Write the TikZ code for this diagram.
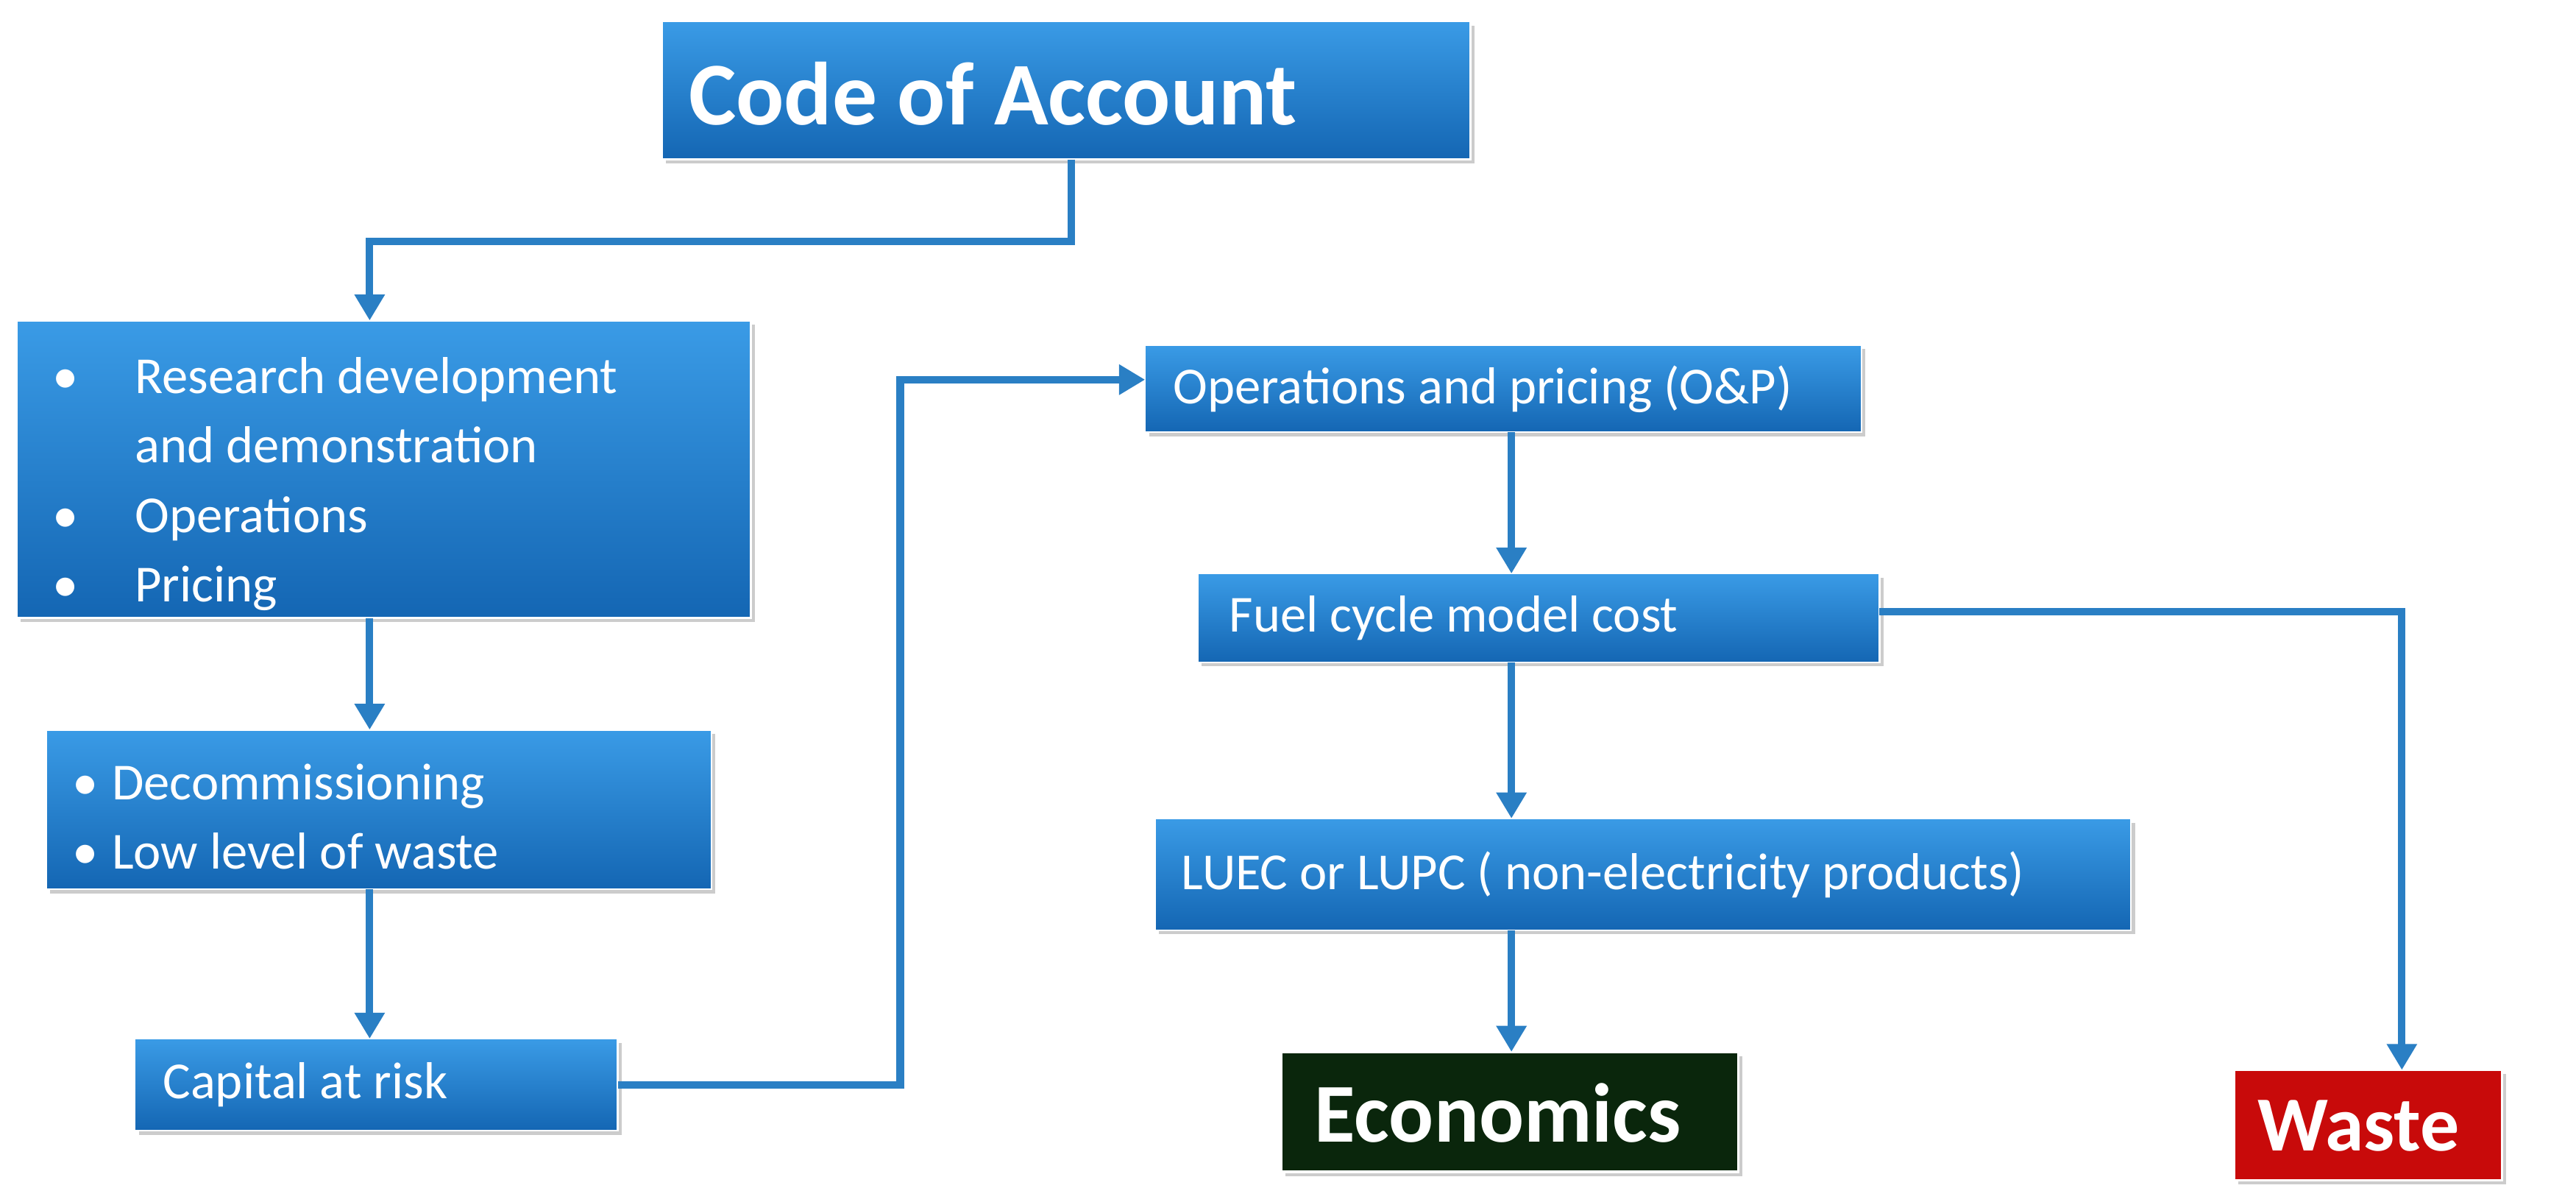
\documentclass[tikz,border=0pt]{standalone}
\usepackage{fontspec}
\setmainfont{Carlito}
\usetikzlibrary{arrows.meta,shadows}
\definecolor{ln}{HTML}{2A7FC4}
\definecolor{btop}{HTML}{3A9BE6}
\definecolor{bbot}{HTML}{1466B3}
\begin{document}
\begin{tikzpicture}[x=0.02cm,y=-0.02cm,
 box/.style={draw=white,line width=0.6pt,top color=btop,bottom color=bbot,drop shadow={shadow xshift=0.05cm,shadow yshift=-0.05cm,opacity=0.4},text=white,font=\fontsize{18}{23}\selectfont,inner sep=0pt},
 conn/.style={draw=ln,line width=2.6pt},
 arr/.style={conn,-{Triangle[length=9pt,width=10pt]}}]
\useasboundingbox (0,0) rectangle (1568,731);
\path[box] (403,13) rectangle (895,97);
\node[text=white,font=\fontsize{31}{36}\selectfont\bfseries,anchor=west] (coa) at (413,57) {Code of Account};
\coordinate (coaB) at (652,97);
\path[box] (10,195) rectangle (457,376);
\node[text=white,font=\fontsize{18}{23}\selectfont,anchor=north west,align=left] (b1) at (26,205) {%
\begin{tabular}{@{}p{1.0cm}@{}l@{}}
\textbullet & Research development\\[1pt]
 & and demonstration\\[1pt]
\textbullet & Operations\\[1pt]
\textbullet & Pricing
\end{tabular}};
\coordinate (b1T) at (225,195); \coordinate (b1B) at (225,376);
\path[box] (28,444) rectangle (433,541);
\node[text=white,font=\fontsize{18}{23}\selectfont,anchor=north west,align=left] (b2) at (38,452) {%
\begin{tabular}{@{}p{0.48cm}@{}l@{}}
\textbullet & Decommissioning\\[1pt]
\textbullet & Low level of waste
\end{tabular}};
\coordinate (b2T) at (225,444); \coordinate (b2B) at (225,541);
\path[box] (82,632) rectangle (376,688);
\node[text=white,font=\fontsize{18}{23}\selectfont,anchor=west] (cap) at (93,660) {Capital at risk};
\coordinate (capT) at (225,632); \coordinate (capR) at (376,660);
\path[box] (697,210) rectangle (1133,263);
\node[text=white,font=\fontsize{18}{23}\selectfont,anchor=west] (op) at (708,237) {Operations and pricing (O\&P)};
\coordinate (opL) at (697,231); \coordinate (opB) at (920,263);
\path[box] (729,349) rectangle (1144,403);
\node[text=white,font=\fontsize{18}{23}\selectfont,anchor=west] (fc) at (742,376) {Fuel cycle model cost};
\coordinate (fcT) at (920,349); \coordinate (fcB) at (920,403); \coordinate (fcR) at (1144,372);
\path[box] (703,498) rectangle (1297,566);
\node[text=white,font=\fontsize{18}{23}\selectfont,anchor=west] (lu) at (713,532) {LUEC or LUPC ( non-electricity products)};
\coordinate (luT) at (920,498); \coordinate (luB) at (920,566);
\path[draw=white,line width=0.8pt,fill={rgb,255:red,10;green,38;blue,12},drop shadow={shadow xshift=0.05cm,shadow yshift=-0.05cm,opacity=0.4}] (780,640) rectangle (1058,713);
\node[text=white,font=\fontsize{29}{34}\selectfont\bfseries,anchor=west] (eco) at (794,677) {Economics};
\coordinate (ecoT) at (920,640);
\path[draw=white,line width=0.8pt,fill={rgb,255:red,200;green,10;blue,10},drop shadow={shadow xshift=0.05cm,shadow yshift=-0.05cm,opacity=0.4}] (1360,651) rectangle (1523,718);
\node[text=white,font=\fontsize{27}{32}\selectfont\bfseries,anchor=west] (wa) at (1368,685) {Waste};
\coordinate (waT) at (1462,651);
\draw[arr] (coaB) -- (652,147) -- (225,147) -- (b1T);
\draw[arr] (b1B) -- (b2T);
\draw[arr] (b2B) -- (capT);
\draw[arr] (capR) -- (548,660) -- (548,231) -- (opL);
\draw[arr] (opB) -- (fcT);
\draw[arr] (fcB) -- (luT);
\draw[arr] (luB) -- (ecoT);
\draw[arr] (fcR) -- (1462,372) -- (waT);
\end{tikzpicture}
\end{document}
